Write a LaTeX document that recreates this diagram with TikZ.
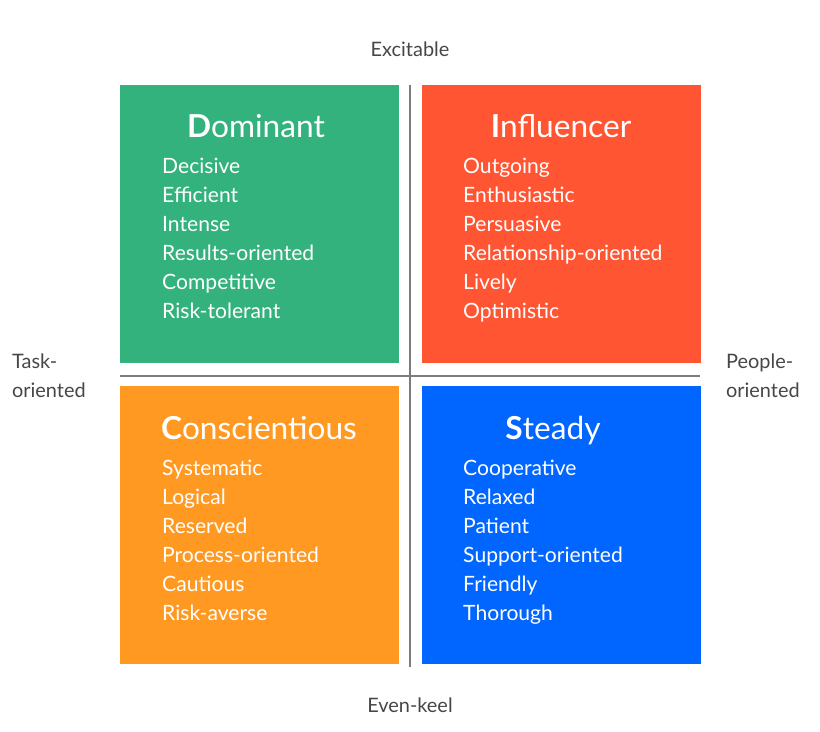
\documentclass[tikz,border=0pt]{standalone}
\usepackage{fontspec}
\setmainfont{Lato}
\usetikzlibrary{positioning}
\definecolor{DomClr}{RGB}{52,178,125}
\definecolor{InfClr}{RGB}{255,85,51}
\definecolor{ConClr}{RGB}{255,153,34}
\definecolor{StdClr}{RGB}{0,102,255}
\definecolor{AxisClr}{RGB}{70,70,70}
\begin{document}
\begin{tikzpicture}[x=0.03cm,y=-0.03cm,
  quad/.style={anchor=north west,minimum width=279*0.03cm,minimum height=278*0.03cm,inner sep=0pt},
  title/.style={anchor=base,text=white,font=\fontsize{27}{30}\selectfont},
  items/.style={anchor=north west,text=white,align=left,inner sep=0pt,font=\fontsize{18}{24.8}\selectfont},
  axislbl/.style={text=AxisClr,align=left,font=\fontsize{17}{24.8}\selectfont}]
\useasboundingbox (0,0) rectangle (820,731);
% quadrants
\node[quad,fill=DomClr] (dom) at (120,85) {};
\node[quad,fill=InfClr] (inf) at (422,85) {};
\node[quad,fill=ConClr] (con) at (120,386) {};
\node[quad,fill=StdClr] (std) at (422,386) {};
% axes
\coordinate (top) at (410,85);
\coordinate (bot) at (410,667);
\coordinate (lft) at (120,376);
\coordinate (rgt) at (700,376);
\draw[AxisClr!70,line width=1pt] (top) -- (bot);
\draw[AxisClr!70,line width=1pt] (lft) -- (rgt);
% titles
\node[title] (domT) at (256,137) {\textbf{D}ominant};
\node[title] (infT) at (561,137) {\textbf{I}nfluencer};
\node[title] (conT) at (259,439) {\textbf{C}onscientious};
\node[title] (stdT) at (553,439) {\textbf{S}teady};
% traits
\node[items] (domL) at (162,158) {Decisive\\Efficient\\Intense\\Results-oriented\\Competitive\\Risk-tolerant};
\node[items] (infL) at (463,158) {Outgoing\\Enthusiastic\\Persuasive\\Relationship-oriented\\Lively\\Optimistic};
\node[items] (conL) at (162,460) {Systematic\\Logical\\Reserved\\Process-oriented\\Cautious\\Risk-averse};
\node[items] (stdL) at (463,460) {Cooperative\\Relaxed\\Patient\\Support-oriented\\Friendly\\Thorough};
% axis labels
\node[axislbl] (exc) at (410,49) {Excitable};
\node[axislbl] (evn) at (410,705) {Even-keel};
\node[axislbl,anchor=west] (task) at (8,376) {Task-\\oriented};
\node[axislbl,anchor=west] (ppl) at (722,376) {People-\\oriented};
\end{tikzpicture}
\end{document}
